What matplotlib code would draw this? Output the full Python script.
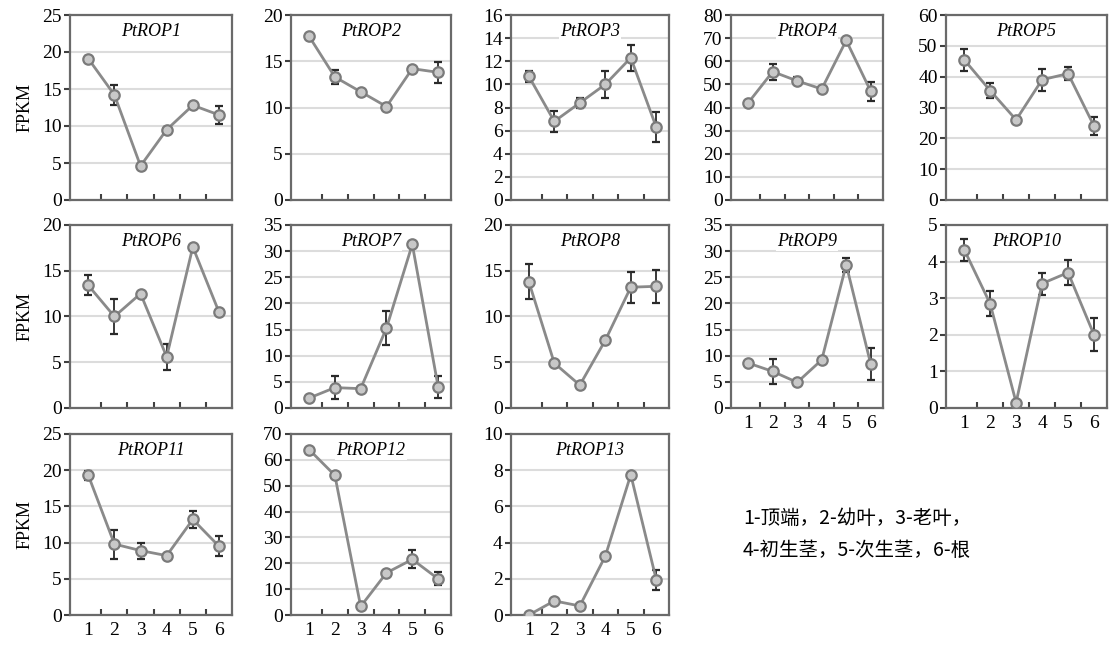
import numpy as np
import matplotlib
matplotlib.use('Agg')
import matplotlib.pyplot as plt

plt.rcParams['font.family'] = ['Liberation Serif', 'DejaVu Serif']

# 样品编号 1..6
samples = [1, 2, 3, 4, 5, 6]
genes = ['PtROP1', 'PtROP2', 'PtROP3', 'PtROP4', 'PtROP5', 'PtROP6', 'PtROP7',
         'PtROP8', 'PtROP9', 'PtROP10', 'PtROP11', 'PtROP12', 'PtROP13']

# FPKM means and errors
rop1 = [19.1, 14.2, 4.6, 9.5, 12.8, 11.5]
rop1_err = [0.3, 1.4, 0.2, 0.3, 0.3, 1.2]
rop2 = [17.7, 13.3, 11.7, 10.1, 14.2, 13.8]
rop2_err = [0.2, 0.8, 0.2, 0.2, 0.2, 1.1]
rop3 = [10.7, 6.8, 8.4, 10.0, 12.3, 6.3]
rop3_err = [0.5, 0.9, 0.4, 1.2, 1.1, 1.3]
rop4 = [42, 55.5, 51.5, 48, 69, 47]
rop4_err = [1, 3.5, 1.5, 1, 1, 4]
rop5 = [45.5, 35.5, 26, 39, 41, 24]
rop5_err = [3.5, 2.5, 1, 3.5, 2, 3]
rop6 = [13.4, 10.0, 12.5, 5.6, 17.6, 10.5]
rop6_err = [1.1, 1.9, 0.2, 1.4, 0.2, 0.2]
rop7 = [1.9, 3.9, 3.7, 15.3, 31.3, 4.1]
rop7_err = [0.3, 2.2, 0.3, 3.3, 0.4, 2.1]
rop8 = [13.8, 4.9, 2.5, 7.4, 13.2, 13.3]
rop8_err = [1.9, 0.2, 0.2, 0.2, 1.7, 1.8]
rop9 = [8.6, 7.0, 4.9, 9.2, 27.4, 8.4]
rop9_err = [0.4, 2.4, 0.3, 0.4, 1.3, 3.0]
rop10 = [4.33, 2.85, 0.15, 3.4, 3.7, 2.0]
rop10_err = [0.3, 0.35, 0.05, 0.3, 0.35, 0.45]
rop11 = [19.3, 9.8, 8.9, 8.2, 13.2, 9.5]
rop11_err = [0.6, 2.0, 1.1, 0.2, 1.2, 1.4]
rop12 = [64, 54, 3.3, 16.3, 21.5, 14]
rop12_err = [0.5, 0.5, 0.5, 0.5, 3.5, 2.5]
rop13 = [0.0, 0.78, 0.5, 3.25, 7.75, 1.95]
rop13_err = [0.05, 0.05, 0.05, 0.1, 0.1, 0.55]

means = [rop1, rop2, rop3, rop4, rop5, rop6, rop7, rop8, rop9, rop10, rop11, rop12, rop13]
errs = [rop1_err, rop2_err, rop3_err, rop4_err, rop5_err, rop6_err, rop7_err,
        rop8_err, rop9_err, rop10_err, rop11_err, rop12_err, rop13_err]
ymax = [25, 20, 16, 80, 60, 20, 35, 20, 35, 5, 25, 70, 10]
ystep = [5, 5, 2, 10, 10, 5, 5, 5, 5, 1, 5, 10, 2]

# panel boxes in pixels (left, right), (top, bottom)
W, H = 1113, 645
col_lr = [(70, 232), (291, 451), (511, 669), (731, 883), (946, 1107)]
row_tb = [(15, 200), (225, 408), (434, 615)]
show_xlab = [8, 9, 10, 11, 12]

fig = plt.figure(figsize=(W / 100, H / 100), dpi=100)

for i in range(13):
    r, c = divmod(i, 5)
    l, rr = col_lr[c]
    t, b = row_tb[r]
    ax = fig.add_axes([l / W, 1 - b / H, (rr - l) / W, (b - t) / H])
    ax.errorbar(samples, means[i], yerr=errs[i], color='#8a8a8a', lw=2,
                marker='o', ms=7.5, mfc='#c8c8c8', mec='#7a7a7a', mew=1.6,
                ecolor='#2a2a2a', elinewidth=1.3, capsize=3, capthick=1.6, zorder=3)
    ax.set_xlim(0.3, 6.5)
    ax.set_ylim(0, ymax[i])
    ax.set_yticks(np.arange(0, ymax[i] + 0.01, ystep[i]))
    ax.yaxis.grid(True, color='#dcdcdc', lw=1.5)
    ax.set_axisbelow(True)
    ax.set_xticks([1.5, 2.5, 3.5, 4.5, 5.5])
    ax.set_xticklabels([])
    if i in show_xlab:
        ax.set_xticks(samples, [str(s) for s in samples], minor=True)
    ax.tick_params(axis='x', which='major', direction='in', length=4, width=1.5, color='#404040')
    ax.tick_params(axis='x', which='minor', length=0, labelsize=14, pad=5)
    ax.tick_params(axis='y', direction='out', length=4, width=1.5, color='#404040',
                   labelsize=14, pad=2)
    for sp in ax.spines.values():
        sp.set_color('#6a6a6a')
        sp.set_linewidth(1.6)
    ax.text(0.5, 0.91, genes[i], transform=ax.transAxes, ha='center', va='center',
            fontsize=13, style='italic', zorder=4,
            bbox=dict(facecolor='white', edgecolor='none', pad=1))
    if c == 0:
        ax.set_ylabel('FPKM', fontsize=13, labelpad=6)

note_font = ['Noto Sans CJK SC', 'DejaVu Sans']
fig.text(743 / W, 1 - 518 / H, '1-顶端，2-幼叶，3-老叶，', family=note_font,
         fontsize=14, va='center', ha='left')
fig.text(743 / W, 1 - 551 / H, '4-初生茎，5-次生茎，6-根', family=note_font,
         fontsize=14, va='center', ha='left')

fig.savefig('out.png', dpi=100)
